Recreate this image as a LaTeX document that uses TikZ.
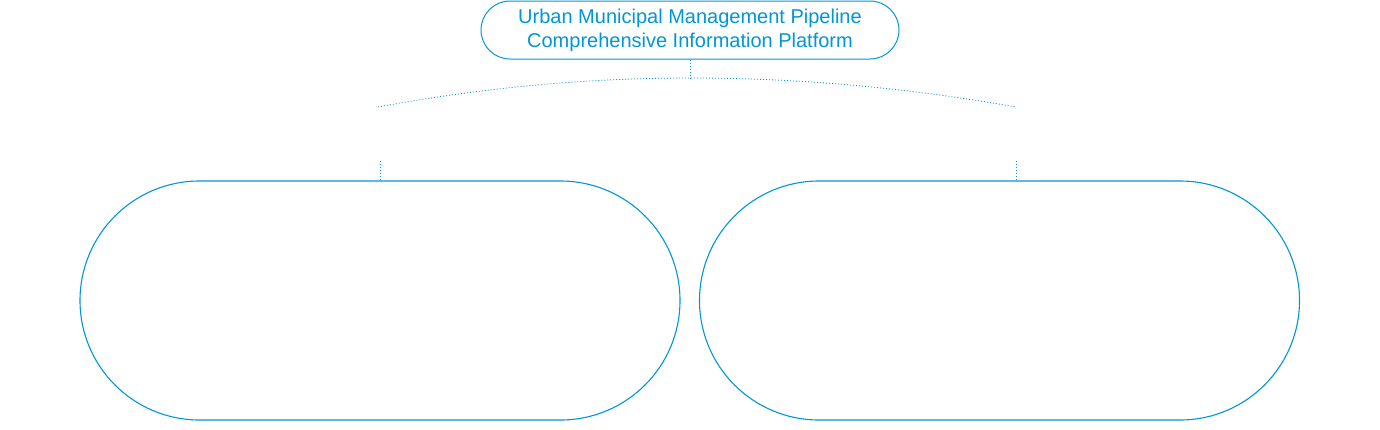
\documentclass[tikz,border=0pt]{standalone}
\usepackage{fontspec}
\setmainfont{Liberation Sans}
\usepackage{tikz}
\usetikzlibrary{calc,shapes,positioning}
\definecolor{pipeblue}{RGB}{0,150,215}

\begin{document}
\begin{tikzpicture}[x=1pt,y=-1pt]
    \useasboundingbox (0,0) rectangle (1380,429);

    \tikzstyle{tnode} = [draw=pipeblue, line width=1pt, rectangle, rounded corners = 29pt, minimum width = 418pt, minimum height = 58pt, inner sep = 0pt, align=center, text=pipeblue, font=\fontsize{20}{24}\selectfont]
    \tikzstyle{bnode} = [draw=pipeblue, line width=1.1pt, rectangle, rounded corners = 119.5pt, minimum width = 600pt, minimum height = 239pt, inner sep = 0pt]
    \tikzstyle{dline} = [draw=pipeblue, line width=0.8pt, dash pattern=on 1pt off 2pt]

    \node[tnode] (platform) at (690,30) {Urban Municipal Management Pipeline\\Comprehensive Information Platform};

    \node[bnode] (leftbox) at (380,300.5) {};
    \node[bnode] (rightbox) at (999.5,300.5) {};

    \coordinate (hub) at (690,78);
    \coordinate (lend) at (378,107);
    \coordinate (rend) at (1016,107);
    \coordinate (ltop) at (380,161);
    \coordinate (rtop) at (1016,161);

    % bracket
    \draw[dline] (platform.south) -- (hub);
    \draw[dline] (lend) .. controls (482,87.7) and (586,78) .. (hub)
                        .. controls (798.7,78) and (907.3,87.7) .. (rend);
    \draw[dline] (ltop) -- (leftbox.north);
    \draw[dline] (rtop) -- (rtop |- rightbox.north);
\end{tikzpicture}
\end{document}
